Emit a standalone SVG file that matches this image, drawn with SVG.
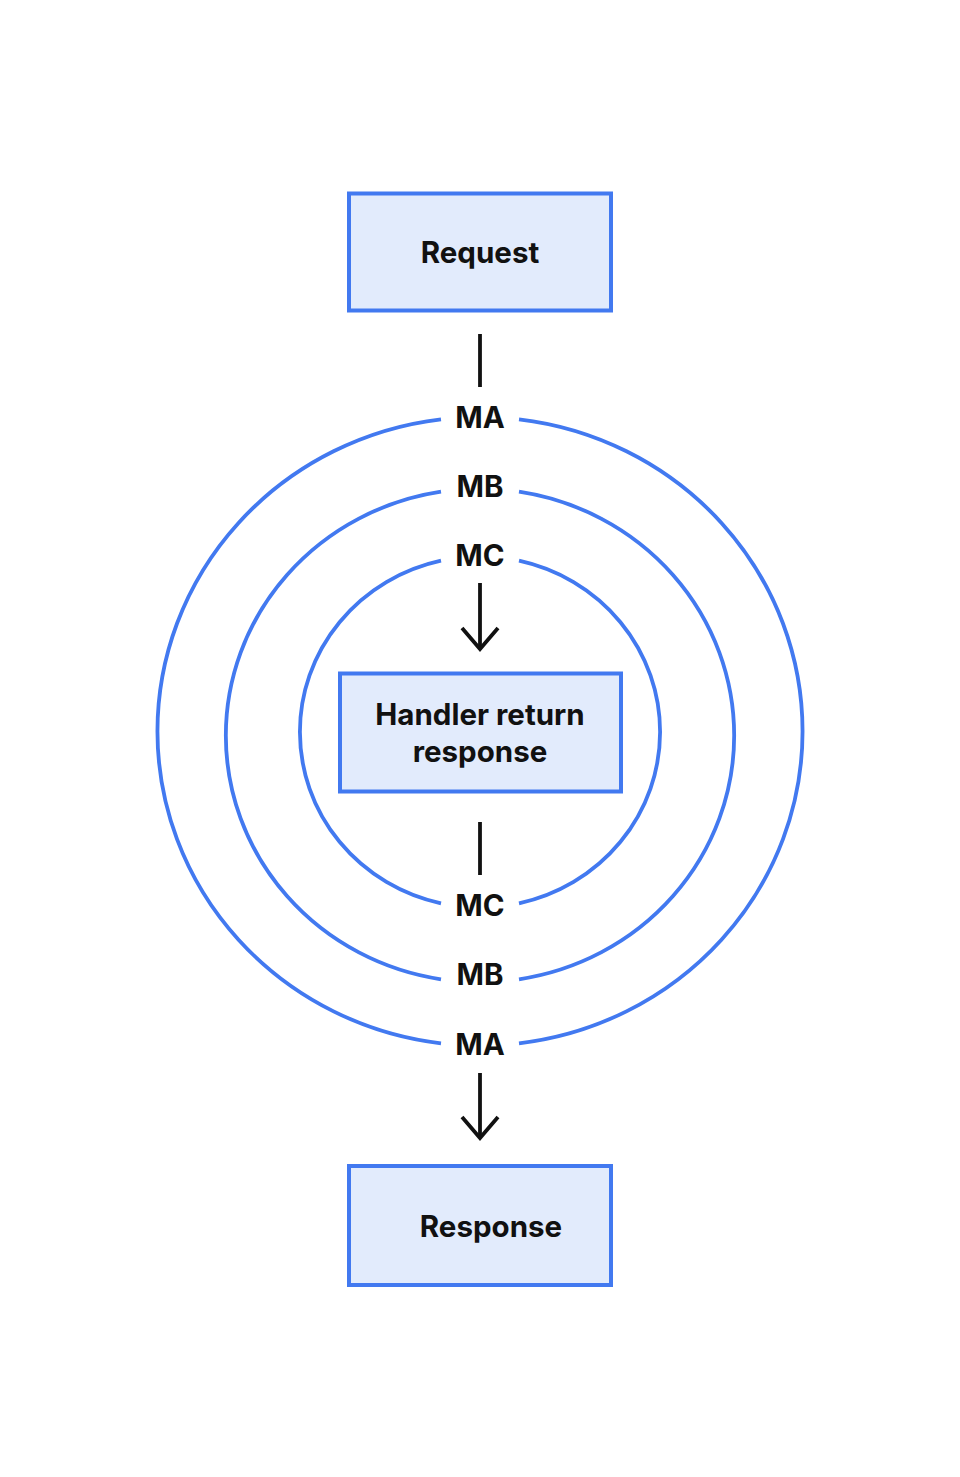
<svg xmlns="http://www.w3.org/2000/svg" width="960" height="1477" viewBox="0 0 960 1477">
  <defs>
    <style>
      .box { fill: #E2EBFC; stroke: #4279F0; stroke-width: 4; }
      .ring { fill: none; stroke: #4279F0; stroke-width: 3.8; }
      .conn { fill: none; stroke: #111111; stroke-width: 3.8; }
      .lbl { font-family: Inter, "Liberation Sans", sans-serif; font-weight: 700; font-size: 29.5px; fill: #111111; text-anchor: middle; }
    </style>
    <marker id="chev" markerUnits="userSpaceOnUse" markerWidth="60" markerHeight="60" refX="0" refY="0" orient="auto" overflow="visible">
      <path d="M-21,-18 L0,0 L-21,18" fill="none" stroke="#111111" stroke-width="3.8"/>
    </marker>
  </defs>
  <rect width="960" height="1477" fill="#FFFFFF"/>

  <g id="rings">
    <g id="ring-a">
      <path class="ring" d="M441,419.3 A322.5,314.3 0 0 0 441,1043.3"/>
      <path class="ring" d="M519,419.3 A322.5,314.3 0 0 1 519,1043.3"/>
    </g>
    <g id="ring-b">
      <path class="ring" d="M441,491.7 A254,246.7 0 0 0 441,979.3"/>
      <path class="ring" d="M519,491.7 A254,246.7 0 0 1 519,979.3"/>
    </g>
    <g id="ring-c">
      <path class="ring" d="M441,560.7 A180.3,175.5 0 0 0 441,903.3"/>
      <path class="ring" d="M519,560.7 A180.3,175.5 0 0 1 519,903.3"/>
    </g>
  </g>

  <g id="labels">
    <text class="lbl" x="480" y="427.5">MA</text>
    <text class="lbl" x="480" y="497">MB</text>
    <text class="lbl" x="480" y="565.5">MC</text>
    <text class="lbl" x="480" y="915.5">MC</text>
    <text class="lbl" x="480" y="985">MB</text>
    <text class="lbl" x="480" y="1054.5">MA</text>
  </g>

  <g id="connectors">
    <line class="conn" x1="480" y1="334" x2="480" y2="387"/>
    <line class="conn" x1="480" y1="583" x2="480" y2="649" marker-end="url(#chev)"/>
    <line class="conn" x1="480" y1="822" x2="480" y2="875"/>
    <line class="conn" x1="480" y1="1073" x2="480" y2="1138" marker-end="url(#chev)"/>
  </g>

  <g id="node-request">
    <rect class="box" x="349" y="193.5" width="262" height="117"/>
    <text class="lbl" x="480" y="262.5">Request</text>
  </g>

  <g id="node-handler">
    <rect class="box" x="340" y="673.5" width="281" height="118"/>
    <text class="lbl" x="480" y="725">Handler return</text>
    <text class="lbl" x="480" y="762">response</text>
  </g>

  <g id="node-response">
    <rect class="box" x="349" y="1166" width="262" height="119"/>
    <text class="lbl" x="491" y="1237">Response</text>
  </g>
</svg>
